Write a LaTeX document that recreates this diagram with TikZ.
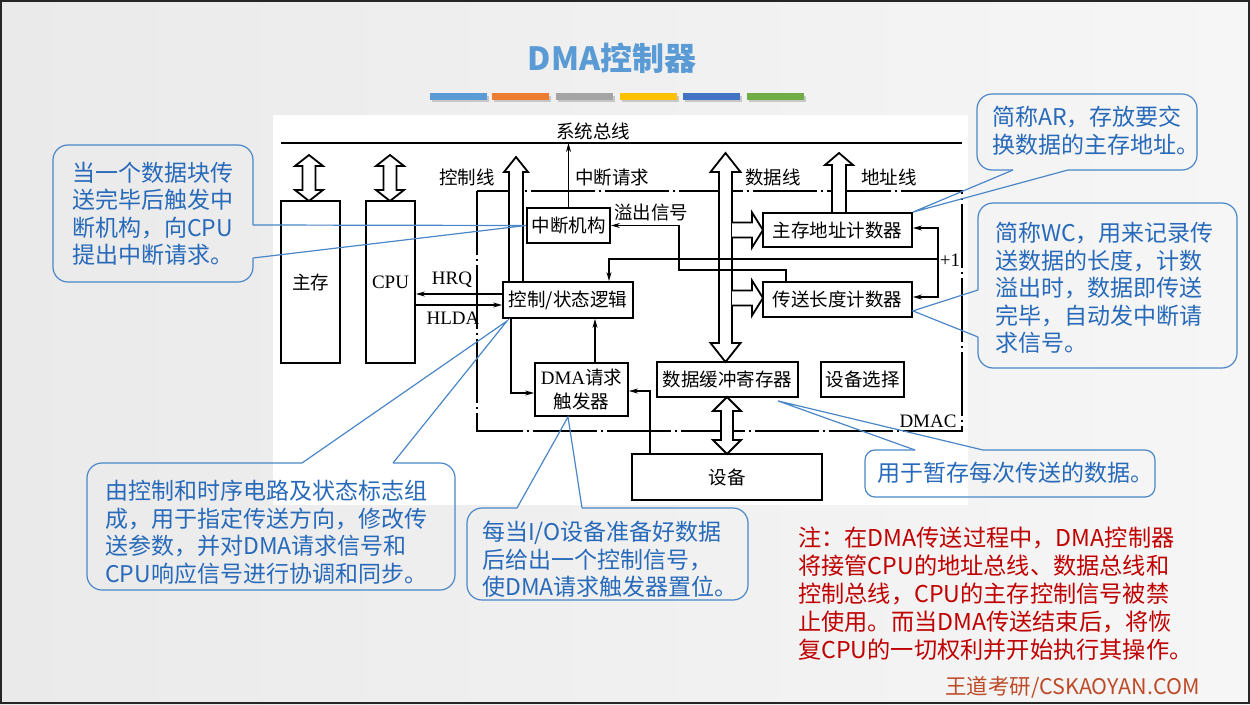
\documentclass[tikz,border=0pt]{standalone}
\usepackage{fontspec}
\setmainfont{Liberation Serif}
\newfontfamily\cjk{Noto Sans CJK SC}
\usetikzlibrary{arrows.meta,positioning}
\definecolor{bgl}{RGB}{234,234,234}
\definecolor{bgr}{RGB}{246,246,246}
\definecolor{ttl}{RGB}{91,155,213}
\definecolor{cblue}{RGB}{74,134,200}
\definecolor{tblue}{RGB}{40,106,186}
\definecolor{nred}{RGB}{192,0,0}
\definecolor{logo}{RGB}{190,75,40}
\definecolor{b1}{RGB}{91,155,213}
\definecolor{b2}{RGB}{237,125,49}
\definecolor{b3}{RGB}{165,165,165}
\definecolor{b4}{RGB}{255,192,0}
\definecolor{b5}{RGB}{68,114,196}
\definecolor{b6}{RGB}{112,173,71}
\newcommand{\dfont}{\cjk\fontsize{18.5}{24}\selectfont}
\newcommand{\lfont}{\rmfamily\fontsize{19}{24}\selectfont}
\newcommand{\cfont}{\cjk\fontsize{23}{27.5}\selectfont}
% hollow arrows: centre x, tip y, other y, head half width, shaft half width, head length
\newcommand{\vdarrow}[6]{\filldraw[hollow] (#1,#2) -- (#1+#4,#2+#6) -- (#1+#5,#2+#6) -- (#1+#5,#3-#6) -- (#1+#4,#3-#6) -- (#1,#3) -- (#1-#4,#3-#6) -- (#1-#5,#3-#6) -- (#1-#5,#2+#6) -- (#1-#4,#2+#6) -- cycle;}
\newcommand{\uparr}[6]{\filldraw[hollow] (#1-#5,#3) -- (#1-#5,#2+#6) -- (#1-#4,#2+#6) -- (#1,#2) -- (#1+#4,#2+#6) -- (#1+#5,#2+#6) -- (#1+#5,#3);}
\newcommand{\rarr}[6]{\filldraw[hollow] (#2,#1-#5) -- (#3-#6,#1-#5) -- (#3-#6,#1-#4) -- (#3,#1) -- (#3-#6,#1+#4) -- (#3-#6,#1+#5) -- (#2,#1+#5);}
\tikzset{
	box/.style={draw,rectangle,line width=1.8pt,inner sep=0pt,align=center,font=\dfont},
	lbl/.style={inner sep=0pt,font=\dfont},
	hollow/.style={draw,fill=white,line width=1.8pt},
	sig/.style={line width=1.3pt,-{Stealth[length=9pt,width=5pt]}},
	dmac/.style={line width=1.8pt,dash pattern=on 64pt off 4pt on 2pt off 4pt},
	callout/.style={draw=cblue,line width=1.2pt,rounded corners=15pt},
	tail/.style={draw=cblue,line width=1.2pt},
	ctext/.style={inner sep=0pt,anchor=west,align=left,text=tblue,font=\cfont}
}
\begin{document}
\begin{tikzpicture}[x=1pt,y=-1pt]
	\useasboundingbox (0,0) rectangle (1250,704);
	\shade[left color=bgl,right color=bgr] (0,0) rectangle (1250,704);
	\draw[line width=2pt,black!85] (1,1) rectangle (1249,703);
	% title and bars
	\node[text=ttl,font=\cjk\fontsize{32}{36}\selectfont\bfseries] (title) at (612,58) {DMA控制器};
	\foreach \x/\c in {430/b1,492/b2,556/b3,620/b4,683/b5,747/b6} {
		\fill[black!22] (\x+2,96) rectangle (\x+59,102);
		\fill[\c] (\x,93) rectangle (\x+57,100);
	}
	% diagram
	\fill[white] (273,115) rectangle (968,505);
	\coordinate (busl) at (281,143);
	\coordinate (busr) at (962,143);
	\draw[line width=1.8pt] (busl) -- (busr);
	\node[lbl] (sysbus) at (593,131) {系统总线};
	\draw[dmac] (477,191) rectangle (962,431);
	\node[lbl,font=\lfont] (dmac) at (928,421) {DMAC};

	\vdarrow{309}{155}{201}{14}{6.5}{11}
	\vdarrow{390}{155}{201}{14}{6.5}{11}
	\vdarrow{725.5}{153}{362}{15}{6.5}{19}
	\vdarrow{727}{397}{454}{14}{6}{14}
	\uparr{516}{157}{282}{12}{7}{15}
	\uparr{839}{153}{213}{14}{7}{12}
	\rarr{230}{732}{763}{17.5}{7.5}{11}
	\rarr{298}{732}{763}{17.5}{7.5}{11}

	\node[box,minimum width=59pt,minimum height=162pt] (mem) at (310.5,282) {主存};
	\node[box,font=\lfont,minimum width=49pt,minimum height=162pt] (cpu) at (390.5,282) {CPU};
	\node[box,minimum width=130pt,minimum height=36pt] (ctl) at (568,300) {控制/状态逻辑};
	\node[box,minimum width=83pt,minimum height=35pt] (intr) at (568.5,225.5) {中断机构};
	\node[box,minimum width=149pt,minimum height=34pt] (ar) at (837.5,230) {主存地址计数器};
	\node[box,minimum width=149pt,minimum height=35pt] (wc) at (837.5,299.5) {传送长度计数器};
	\node[box,minimum width=93pt,minimum height=53pt] (trig) at (581.5,389.5) {{\lfont DMA}请求\\触发器};
	\node[box,minimum width=141pt,minimum height=35pt] (buf) at (727.5,379.5) {数据缓冲寄存器};
	\node[box,minimum width=83pt,minimum height=35pt] (sel) at (862.5,379.5) {设备选择};
	\node[box,minimum width=190pt,minimum height=46pt] (dev) at (727,477) {设备};

	\node[lbl] (ctlline) at (467,177) {控制线};
	\node[lbl] (irq) at (612,177) {中断请求};
	\node[lbl] (ovf) at (651,212) {溢出信号};
	\node[lbl] (dataline) at (773,177) {数据线};
	\node[lbl] (addrline) at (889,177) {地址线};
	\node[lbl,font=\lfont] (hrq) at (452,280) {HRQ};
	\node[lbl,font=\lfont] (hlda) at (453,318) {HLDA};
	\node[lbl,font=\lfont] (plus1) at (950,260) {+1};

	\coordinate (hrqp) at ([yshift=6pt]ctl.west);
	\coordinate (hldap) at ([yshift=-5pt]ctl.west);
	\draw[sig] (hrqp) -- (hrqp -| cpu.east);
	\draw[sig] (hldap -| cpu.east) -- (hldap);
	\draw[sig] (intr.north) -- (intr.north |- busl);
	\coordinate (ovfp) at ([xshift=-51.5pt]wc.north);
	\draw[sig] (ovfp) |- (679,270) |- (intr.east);
	\coordinate (inc) at (938,259);
	\draw[sig] (inc) -| ([xshift=41pt]ctl.north);
	\draw[sig] (inc) |- ([yshift=2pt]ar.east);
	\draw[sig] (inc) |- ([yshift=2.5pt]wc.east);
	\coordinate (up) at ([xshift=13.5pt]trig.north);
	\draw[sig] (up) -- (up |- ctl.south);
	\coordinate (down) at ([xshift=-57pt]ctl.south);
	\draw[sig] (down) |- ([yshift=-3.5pt]trig.west);
	\coordinate (req) at ([xshift=-77pt]dev.north);
	\draw[sig] (req) |- ([yshift=-1.5pt]trig.east);

	% callouts
	\draw[callout] (253,258) -- (253,282) -- (53,282) -- (53,145) -- (253,145) -- (253,225);
	\draw[tail] (253,225) -- (intr.west) -- (253,258);
	\node[ctext] (c1) at (72,214) {当一个数据块传\\送完毕后触发中\\断机构，向CPU\\提出中断请求。};

	\draw[callout] (1013,170) -- (977,170) -- (977,94) -- (1197,94) -- (1197,170) -- (1068,170);
	\draw[tail] (1013,170) -- (ar.north east) -- (1068,170);
	\node[ctext] (c2) at (992,130.5) {简称AR，存放要交\\换数据的主存地址。};

	\coordinate (wctip) at ([yshift=7pt]wc.south east);
	\draw[callout] (978,290) -- (978,203) -- (1237,203) -- (1237,368) -- (978,368) -- (978,337);
	\draw[tail] (978,290) -- (wctip) -- (978,337);
	\node[ctext] (c3) at (995,288) {简称WC，用来记录传\\送数据的长度，计数\\溢出时，数据即传送\\完毕，自动发中断请\\求信号。};

	\coordinate (ctltip) at ([xshift=5pt,yshift=-2pt]ctl.south west);
	\draw[callout] (393,463) -- (455,463) -- (455,590) -- (87,590) -- (87,463) -- (302,463);
	\draw[tail] (302,463) -- (ctltip) -- (393,463);
	\node[ctext] (c4) at (105,532.5) {由控制和时序电路及状态标志组\\成，用于指定传送方向，修改传\\送参数，并对DMA请求信号和\\CPU响应信号进行协调和同步。};

	\coordinate (trigtip) at ([xshift=-13.5pt]trig.south);
	\draw[callout] (582,508) -- (748,508) -- (748,600) -- (467,600) -- (467,508) -- (517,508);
	\draw[tail] (517,508) -- (trigtip) -- (582,508);
	\node[ctext] (c5) at (482,559.5) {每当I/O设备准备好数据\\后给出一个控制信号，\\使DMA请求触发器置位。};

	\coordinate (buftip) at ([xshift=-21pt,yshift=-3pt]buf.south east);
	\draw[callout,rounded corners=10pt] (983,450) -- (1155,450) -- (1155,497) -- (865,497) -- (865,450) -- (915,450);
	\draw[tail] (915,450) -- (buftip) -- (983,450);
	\node[ctext] (c6) at (877,473) {用于暂存每次传送的数据。};

	\node[ctext,text=nred,font=\cjk\fontsize{23.2}{28}\selectfont] (note) at (798,594) {注：在DMA传送过程中，DMA控制器\\将接管CPU的地址总线、数据总线和\\控制总线，CPU的主存控制信号被禁\\止使用。而当DMA传送结束后，将恢\\复CPU的一切权利并开始执行其操作。};
	\node[inner sep=0pt,anchor=west,text=logo,font=\cjk\fontsize{21.5}{24}\selectfont] (logo) at (945,687) {王道考研/CSKAOYAN.COM};
\end{tikzpicture}
\end{document}
